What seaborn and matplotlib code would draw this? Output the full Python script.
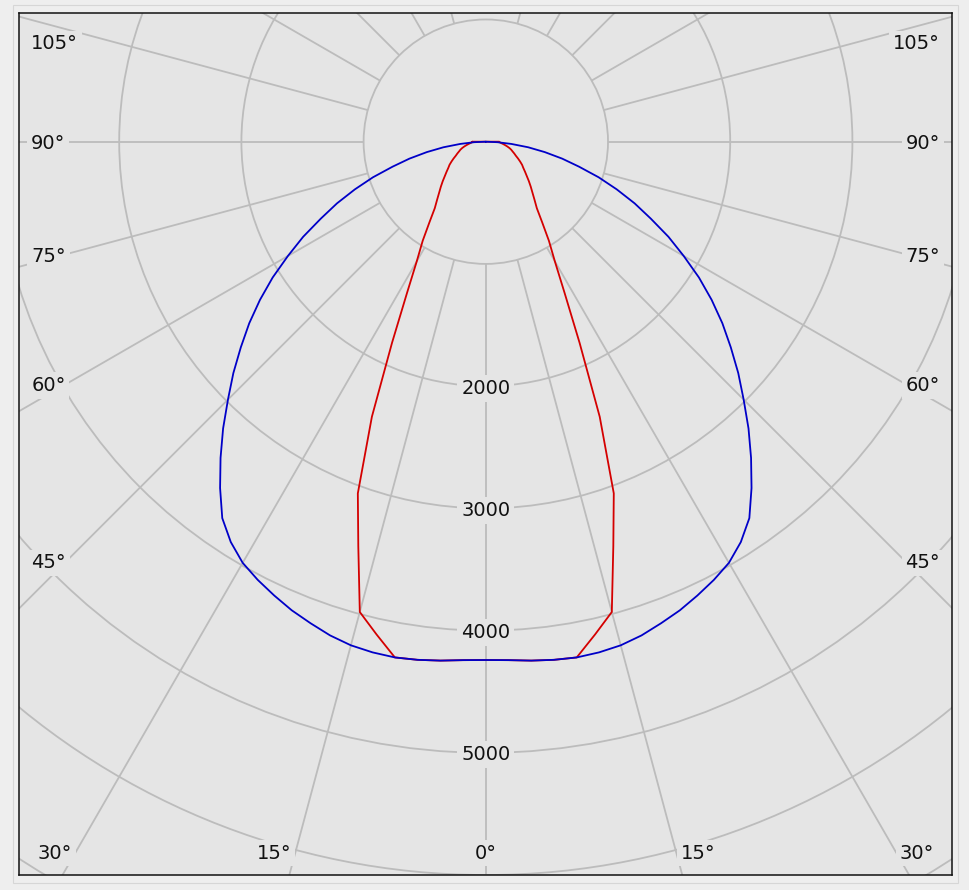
import numpy as np
import pandas as pd
import matplotlib
matplotlib.use('Agg')
import matplotlib.pyplot as plt
from matplotlib.patches import Circle, Rectangle
import seaborn as sns

# ==============================================
# luminous intensity (cd) vs gamma angle from nadir, symmetric curves
gamma = [0, 2.5, 5, 7.5, 10, 12.5, 15, 17.5, 20, 22.5, 25, 27.5, 30, 32.5, 35,
         37.5, 40, 42.5, 45, 47.5, 50, 52.5, 55, 57.5, 60, 62.5, 65, 67.5, 70,
         72.5, 75, 77.5, 80, 82.5, 85, 87.5, 90]
c0_180 = [4241, 4246, 4262, 4276, 4285, 4280, 4266, 4236, 4193, 4150, 4097, 4042, 3979, 3884, 3760,
          3572, 3377, 3182, 2984, 2802, 2617, 2440, 2256, 2068, 1870, 1685, 1490, 1318, 1140,
          968, 790, 640, 490, 350, 210, 95, 0]
c90_270 = [4241, 4246, 4262, 4276, 4285, 4130, 3984, 3470, 3062, 2436, 1816, 1398, 1130, 961, 803,
           686, 620, 565, 520, 478, 438, 405, 375, 352, 324, 297, 271, 252, 233,
           218, 200, 180, 160, 142, 125, 115, 110]

ring_values = [1000, 2000, 3000, 4000, 5000, 6000, 7000, 8000]
ring_labels = [2000, 3000, 4000, 5000]
spoke_angles = [a for a in range(0, 360, 15) if a != 180]
bottom_angles = [-30, -15, 0, 15, 30]
side_angles = [45, 60, 75, 90, 105]

bg = '#e5e5e5'
grid_col = '#bcbcbc'
fs = 14

# ==============================================
def to_frame(vals, name):
    th = [-g for g in gamma[::-1]] + gamma[1:]
    rr = vals[::-1] + vals[1:]
    th = th + [th[0]]
    rr = rr + [rr[0]]
    t = np.radians(th)
    return pd.DataFrame({'x': np.array(rr) * np.sin(t),
                         'y': -np.array(rr) * np.cos(t),
                         'plane': name})

df = pd.concat([to_frame(c90_270, 'C90-C270'), to_frame(c0_180, 'C0-C180')],
               ignore_index=True)

sns.set_theme(style='white')
plt.rcParams['font.family'] = ['DejaVu Sans']

fig = plt.figure(figsize=(9.69, 8.90), dpi=100, facecolor='#eeeeee')
fig.patches.append(Rectangle((13/969, 7/890), 945/969, 878/890, transform=fig.transFigure,
                             fill=False, ec='#d6d6d6', lw=0.8))
ax = fig.add_axes([19/969, 15/890, 933/969, 862/890])
ax.set_facecolor(bg)

# polar grid
for r in ring_values:
    ax.add_patch(Circle((0, 0), r, fill=False, ec=grid_col, lw=1.3, zorder=1))
for a in spoke_angles:
    t = np.radians(a)
    ax.plot([1000*np.sin(t), 9000*np.sin(t)], [-1000*np.cos(t), -9000*np.cos(t)],
            color=grid_col, lw=1.3, zorder=1, solid_capstyle='butt')

# curves
sns.lineplot(data=df, x='x', y='y', hue='plane', sort=False, estimator=None,
             palette=['#d40000', '#0000c8'], lw=1.3, legend=False, ax=ax, zorder=3)

box = dict(boxstyle='square,pad=0.2', fc=bg, ec='none')
for r in ring_labels:
    ax.text(0, -r, str(r), ha='center', va='center_baseline', fontsize=fs, color='#111111',
            bbox=box, zorder=2)

# angle labels at the frame
y_row = -5804
for a in bottom_angles:
    x = abs(-y_row * np.tan(np.radians(a))) * np.sign(a)
    if a < 0:
        ax.text(x - 38, y_row, '%d°' % abs(a), ha='right', va='center_baseline', fontsize=fs,
                color='#111111', bbox=box, zorder=2)
    elif a > 0:
        ax.text(x + 38, y_row, '%d°' % a, ha='left', va='center_baseline', fontsize=fs,
                color='#111111', bbox=box, zorder=2)
    else:
        ax.text(0, y_row, '0°', ha='center', va='center_baseline', fontsize=fs,
                color='#111111', bbox=box, zorder=2)

for a in side_angles:
    y = min(-3430 / np.tan(np.radians(a)), 816)
    ax.text(-3720, y, '%d°' % a, ha='left', va='center_baseline', fontsize=fs,
            color='#111111', bbox=box, zorder=2)
    ax.text(3718, y, '%d°' % a, ha='right', va='center_baseline', fontsize=fs,
            color='#111111', bbox=box, zorder=2)

ax.set_xlim(-3820, 3815)
ax.set_ylim(-6000, 1053)
ax.set_xticks([])
ax.set_yticks([])
ax.set_xlabel('')
ax.set_ylabel('')
for s in ax.spines.values():
    s.set_color('#111111')
    s.set_linewidth(1.1)

plt.savefig('out.png', dpi=100, facecolor=fig.get_facecolor())
